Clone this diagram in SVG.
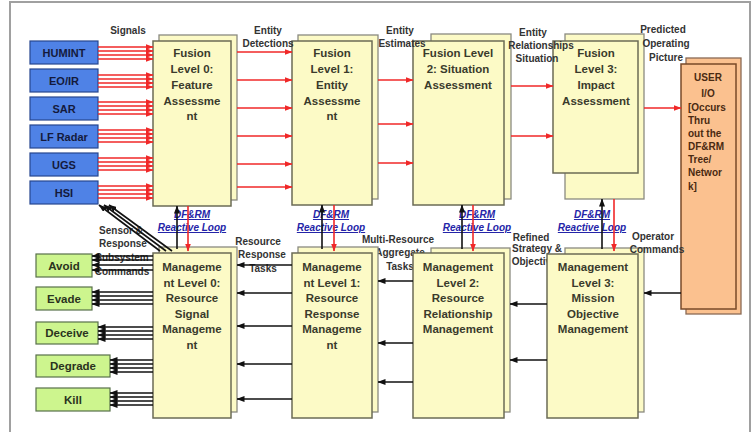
<svg xmlns="http://www.w3.org/2000/svg" width="754" height="432" viewBox="0 0 754 432">
<defs>
<marker id="ar" markerUnits="userSpaceOnUse" markerWidth="8" markerHeight="6" refX="7.5" refY="3" orient="auto"><path d="M0,0 L8,3 L0,6 z" fill="#f02828"/></marker>
<marker id="ab" markerUnits="userSpaceOnUse" markerWidth="8" markerHeight="6" refX="7.5" refY="3" orient="auto"><path d="M0,0 L8,3 L0,6 z" fill="#111"/></marker>
</defs>
<style>
text{font-family:"Liberation Sans",Arial,sans-serif;font-weight:bold}
.fr{fill:#fcfac6;stroke:#6b6b55;stroke-width:1.5}
.bk{fill:#fcfac6;stroke:#8a8a80;stroke-width:1.3}
.bt{font-size:11.5px;fill:#3a3a2c;text-anchor:middle}
.sn{fill:#4f82e6;stroke:#27468f;stroke-width:1.2}
.st{font-size:11px;fill:#141a3c;text-anchor:middle}
.gn{fill:#cdf58e;stroke:#58704a;stroke-width:1.2}
.gt{font-size:11.5px;fill:#2a3320;text-anchor:middle}
.lb{font-size:10px;fill:#333;text-anchor:middle}
.df{font-size:10px;fill:#2424a8;font-style:italic;text-anchor:middle;text-decoration:underline}
.r{stroke:#f02828;stroke-width:1.6;fill:none;marker-end:url(#ar)}
.b{stroke:#111;stroke-width:1.6;fill:none;marker-end:url(#ab)}
.ut{font-size:10px;fill:#4a2a12}
</style>
<rect x="10" y="2" width="740" height="440" fill="#fff" stroke="#a0a0a0" stroke-width="2"/>

<g id="labels-under">
<text class="lb" x="128" y="34">Signals</text>
<text class="lb" x="121" y="234">Sensor &amp;</text>
<text class="lb" x="123" y="247">Response</text>
<text class="lb" x="122" y="261">Subsystem</text>
<text class="lb" x="122" y="275">Commands</text>
<text class="lb" x="258" y="245">Resource</text>
<text class="lb" x="262" y="258">Response</text>
<text class="lb" x="263" y="272">Tasks</text>
<text class="lb" x="398" y="243">Multi-Resource</text>
<text class="lb" x="400" y="256">Aggregate</text>
<text class="lb" x="400" y="270">Tasks</text>
<text class="lb" x="531" y="241">Refined</text>
<text class="lb" x="537" y="252">Strategy &amp;</text>
<text class="lb" x="537" y="265">Objectives</text>
<text class="df" x="192" y="218">DF&amp;RM</text>
<text class="df" x="192" y="231">Reactive Loop</text>
<text class="df" x="331" y="218">DF&amp;RM</text>
<text class="df" x="331" y="231">Reactive Loop</text>
<text class="df" x="477" y="218">DF&amp;RM</text>
<text class="df" x="477" y="231">Reactive Loop</text>
<text class="df" x="592" y="218">DF&amp;RM</text>
<text class="df" x="592" y="231">Reactive Loop</text>
</g>

<g id="fusion0"><rect class="bk" x="159" y="35" width="78" height="165"/><rect class="fr" x="153" y="41" width="78" height="165"/>
<text class="bt" x="192" y="57">Fusion</text><text class="bt" x="192" y="73">Level 0:</text><text class="bt" x="192" y="89">Feature</text><text class="bt" x="192" y="105">Assessme</text><text class="bt" x="192" y="120">nt</text></g>
<g id="fusion1"><rect class="bk" x="298" y="35" width="80" height="164"/><rect class="fr" x="292" y="41" width="80" height="164"/>
<text class="bt" x="332" y="57">Fusion</text><text class="bt" x="332" y="73">Level 1:</text><text class="bt" x="332" y="89">Entity</text><text class="bt" x="332" y="105">Assessme</text><text class="bt" x="332" y="120">nt</text></g>
<g id="fusion2"><rect class="bk" x="431" y="34" width="80" height="165"/><rect class="fr" x="413" y="41" width="91" height="164"/>
<text class="bt" x="458" y="57">Fusion Level</text><text class="bt" x="458" y="73">2: Situation</text><text class="bt" x="458" y="89">Assessment</text></g>
<g id="fusion3"><rect class="bk" x="565" y="34" width="79" height="165"/><rect class="fr" x="553" y="41" width="85" height="132"/>
<text class="bt" x="596" y="57">Fusion</text><text class="bt" x="596" y="73">Level 3:</text><text class="bt" x="596" y="89">Impact</text><text class="bt" x="596" y="105">Assessment</text></g>

<g id="user-io"><rect x="686" y="58" width="55" height="256" fill="#fbc18f" stroke="#8a6a55" stroke-width="1.3"/><rect x="681" y="64" width="55" height="245" fill="#fbc18f" stroke="#7a4a28" stroke-width="1.5"/>
<text class="ut" x="708" y="81" text-anchor="middle" font-size="12">USER</text><text class="ut" x="708" y="97" text-anchor="middle" font-size="12">I/O</text>
<text class="ut" x="688" y="111">[Occurs</text><text class="ut" x="688" y="124">Thru</text><text class="ut" x="688" y="137">out the</text><text class="ut" x="688" y="150">DF&amp;RM</text><text class="ut" x="688" y="163">Tree/</text><text class="ut" x="688" y="176">Networ</text><text class="ut" x="688" y="190">k]</text></g>

<g id="mgmt0"><rect class="bk" x="159" y="247" width="78" height="165"/><rect class="fr" x="153" y="253" width="78" height="165"/>
<text class="bt" x="192" y="271">Manageme</text><text class="bt" x="192" y="286.5">nt Level 0:</text><text class="bt" x="192" y="302">Resource</text><text class="bt" x="192" y="317.5">Signal</text><text class="bt" x="192" y="333">Manageme</text><text class="bt" x="192" y="348.5">nt</text></g>
<g id="mgmt1"><rect class="bk" x="298" y="247" width="80" height="165"/><rect class="fr" x="292" y="253" width="80" height="165"/>
<text class="bt" x="332" y="271">Manageme</text><text class="bt" x="332" y="286.5">nt Level 1:</text><text class="bt" x="332" y="302">Resource</text><text class="bt" x="332" y="317.5">Response</text><text class="bt" x="332" y="333">Manageme</text><text class="bt" x="332" y="348.5">nt</text></g>
<g id="mgmt2"><rect class="bk" x="431" y="248" width="79" height="164"/><rect class="fr" x="413" y="253" width="91" height="165"/>
<text class="bt" x="458" y="271">Management</text><text class="bt" x="458" y="286.5">Level 2:</text><text class="bt" x="458" y="302">Resource</text><text class="bt" x="458" y="317.5">Relationship</text><text class="bt" x="458" y="333">Management</text></g>
<g id="mgmt3"><rect class="bk" x="565" y="248" width="79" height="164"/><rect class="fr" x="547" y="254" width="91" height="164"/>
<text class="bt" x="593" y="271">Management</text><text class="bt" x="593" y="286.5">Level 3:</text><text class="bt" x="593" y="302">Mission</text><text class="bt" x="593" y="317.5">Objective</text><text class="bt" x="593" y="333">Management</text></g>

<g id="labels-over">
<text class="lb" x="268" y="34">Entity</text>
<text class="lb" x="268" y="47">Detections</text>
<text class="lb" x="400" y="34">Entity</text>
<text class="lb" x="402" y="47">Estimates</text>
<text class="lb" x="533" y="36">Entity</text>
<text class="lb" x="541" y="49">Relationships</text>
<text class="lb" x="537" y="62">Situation</text>
<text class="lb" x="663" y="33">Predicted</text>
<text class="lb" x="666" y="47">Operating</text>
<text class="lb" x="666" y="61">Picture</text>
<text class="lb" x="653" y="240">Operator</text>
<text class="lb" x="657" y="253">Commands</text>
</g>

<g id="sensors">
<g id="humint"><rect class="sn" x="30" y="41" width="68" height="23"/><text class="st" x="64" y="56.5">HUMINT</text></g>
<g id="eoir"><rect class="sn" x="30" y="69" width="68" height="23"/><text class="st" x="64" y="84.5">EO/IR</text></g>
<g id="sar"><rect class="sn" x="30" y="97" width="68" height="23"/><text class="st" x="64" y="112.5">SAR</text></g>
<g id="lfradar"><rect class="sn" x="30" y="125" width="68" height="23"/><text class="st" x="64" y="140.5">LF Radar</text></g>
<g id="ugs"><rect class="sn" x="30" y="153" width="68" height="23"/><text class="st" x="64" y="168.5">UGS</text></g>
<g id="hsi"><rect class="sn" x="30" y="181" width="68" height="23"/><text class="st" x="64" y="196.5">HSI</text></g>
</g>
<g id="responses">
<g id="avoid"><rect class="gn" x="36" y="254" width="56" height="23"/><text class="gt" x="64" y="269.5">Avoid</text></g>
<g id="evade"><rect class="gn" x="36" y="287" width="56" height="23"/><text class="gt" x="64" y="302.5">Evade</text></g>
<g id="deceive"><rect class="gn" x="36" y="322" width="62" height="22"/><text class="gt" x="67" y="337">Deceive</text></g>
<g id="degrade"><rect class="gn" x="36" y="355" width="74" height="22"/><text class="gt" x="73" y="370">Degrade</text></g>
<g id="kill"><rect class="gn" x="36" y="388" width="74" height="23"/><text class="gt" x="73" y="403.5">Kill</text></g>
</g>

<g id="connectors">
<path class="r" d="M98,47 H153"/><path class="r" d="M98,51 H153"/><path class="r" d="M98,55 H153"/><path class="r" d="M98,59 H153"/>
<path class="r" d="M98,75 H153"/><path class="r" d="M98,79 H153"/><path class="r" d="M98,83 H153"/><path class="r" d="M98,87 H153"/>
<path class="r" d="M98,102 H153"/><path class="r" d="M98,106 H153"/><path class="r" d="M98,110 H153"/><path class="r" d="M98,114 H153"/>
<path class="r" d="M98,130 H153"/><path class="r" d="M98,134 H153"/><path class="r" d="M98,138 H153"/><path class="r" d="M98,142 H153"/>
<path class="r" d="M98,158 H153"/><path class="r" d="M98,162 H153"/><path class="r" d="M98,166 H153"/><path class="r" d="M98,170 H153"/>
<path class="r" d="M98,186 H153"/><path class="r" d="M98,190 H153"/><path class="r" d="M98,194 H153"/><path class="r" d="M98,198 H153"/>
<path class="r" d="M237,52 H292"/><path class="r" d="M237,80 H292"/><path class="r" d="M237,108 H292"/><path class="r" d="M237,136 H292"/><path class="r" d="M237,164 H292"/><path class="r" d="M237,187 H292"/>
<path class="r" d="M378,80 H413"/><path class="r" d="M378,124 H413"/><path class="r" d="M378,163 H413"/>
<path class="r" d="M511,86 H553"/><path class="r" d="M511,136 H553"/>
<path class="r" d="M644,108 H681"/>
<path class="b" d="M292,265 H237"/><path class="b" d="M292,293 H237"/><path class="b" d="M292,326 H237"/><path class="b" d="M292,364 H237"/><path class="b" d="M292,399 H237"/>
<path class="b" d="M413,281 H378"/><path class="b" d="M413,343 H378"/><path class="b" d="M413,382 H378"/>
<path class="b" d="M547,304 H510"/><path class="b" d="M547,360 H510"/>
<path class="b" d="M681,293 H644"/>
<path class="b" d="M177,249 V206"/><path class="r" d="M188,206 V251"/>
<path class="b" d="M322,249 V205"/><path class="r" d="M334,205 V251"/>
<path class="b" d="M462,249 V205"/><path class="r" d="M473,205 V251"/>
<path class="b" d="M602,249 V199"/><path class="r" d="M614,199 V251"/>
<path class="b" d="M153,256 H92"/><path class="b" d="M153,260 H92"/><path class="b" d="M153,265 H92"/><path class="b" d="M153,270 H92"/>
<path class="b" d="M153,292 H92"/><path class="b" d="M153,296 H92"/><path class="b" d="M153,300 H92"/><path class="b" d="M153,304 H92"/>
<path class="b" d="M153,327 H98"/><path class="b" d="M153,331 H98"/><path class="b" d="M153,335 H98"/><path class="b" d="M153,339 H98"/>
<path class="b" d="M153,360 H110"/><path class="b" d="M153,364 H110"/><path class="b" d="M153,368 H110"/><path class="b" d="M153,372 H110"/>
<path class="b" d="M153,393 H110"/><path class="b" d="M153,397 H110"/><path class="b" d="M153,401 H110"/><path class="b" d="M153,405 H110"/>
<path class="b" d="M160,251 L99,205"/><path class="b" d="M166,251 L104,205"/><path class="b" d="M172,251 L109,205"/>
</g>
</svg>
